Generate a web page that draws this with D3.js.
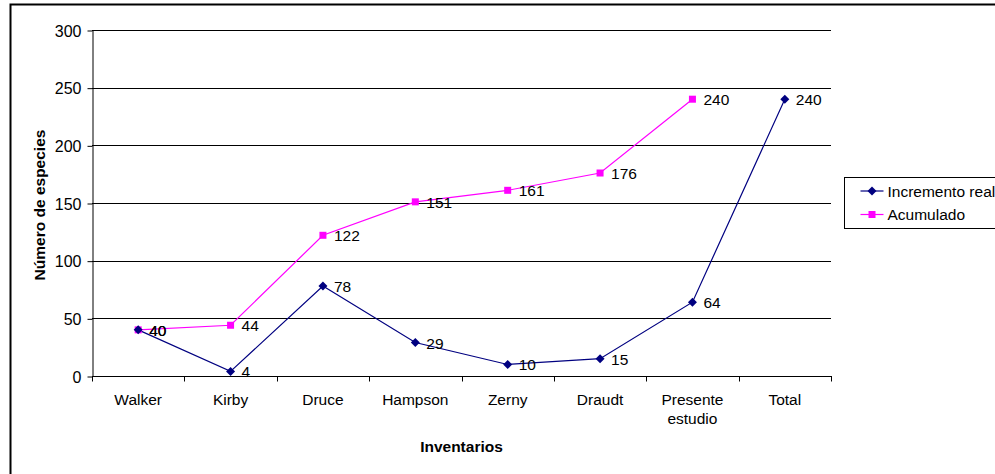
<!DOCTYPE html>
<html>
<head>
<meta charset="utf-8">
<script src="https://cdn.jsdelivr.net/npm/d3@7"></script>
<style>
  html, body { margin: 0; padding: 0; background: #fff; }
  svg { display: block; font-family: "Liberation Sans", Arial, sans-serif; }
</style>
</head>
<body>
<svg id="chart" width="995" height="474"></svg>
<script>
// Species inventories and the running total
const categories = ["Walker", "Kirby", "Druce", "Hampson", "Zerny", "Draudt", "Presente estudio", "Total"];
const incrementoReal = [40, 4, 78, 29, 10, 15, 64, 240];
const acumulado = [40, 44, 122, 151, 161, 176, 240];
const yTicks = [0, 50, 100, 150, 200, 250, 300];

const FONT = "Liberation Sans, Arial, sans-serif";
const svg = d3.select("#chart");
const plot = { left: 92, right: 831, top: 30, bottom: 376 };

// Outer chart frame (extends past the window on the right and bottom)
svg.append("rect")
  .attr("x", 10.5).attr("y", 4.5)
  .attr("width", 1000).attr("height", 500)
  .attr("fill", "none").attr("stroke", "#000").attr("stroke-width", 2);

const x = d3.scaleBand().domain(categories).range([plot.left, plot.right]);
const y = d3.scaleLinear().domain([0, 300]).range([plot.bottom, plot.top]);

// Horizontal gridlines
svg.append("g").selectAll("line").data(yTicks.filter(d => d > 0)).join("line")
  .attr("x1", plot.left).attr("x2", plot.right)
  .attr("y1", d => Math.round(y(d)) + 0.5).attr("y2", d => Math.round(y(d)) + 0.5)
  .attr("stroke", "#000").attr("stroke-width", 1);

// Y axis
const yAxis = svg.append("g")
  .attr("transform", `translate(${plot.left + 0.5},0.5)`)
  .call(d3.axisLeft(y).tickValues(yTicks).tickSize(5).tickPadding(6).tickSizeOuter(0));
yAxis.attr("font-size", null).attr("font-family", null);
yAxis.select(".domain").attr("stroke", "#000");
yAxis.selectAll(".tick line").attr("stroke", "#000");
yAxis.selectAll("text")
  .attr("fill", "#000").attr("dy", "0.35em")
  .style("font-size", "16px").style("font-family", FONT);

// X axis with ticks between categories
const xAxisG = svg.append("g").attr("transform", `translate(0,${plot.bottom + 0.5})`);
xAxisG.append("line")
  .attr("x1", plot.left).attr("x2", plot.right + 1)
  .attr("stroke", "#000");
const boundaries = categories.map(c => x(c)).concat([x.range()[1]]);
xAxisG.selectAll("line.tick").data(boundaries).join("line")
  .attr("class", "tick")
  .attr("x1", d => Math.round(d) + 0.5).attr("x2", d => Math.round(d) + 0.5)
  .attr("y1", 0).attr("y2", 5)
  .attr("stroke", "#000");

xAxisG.selectAll("text").data(categories).join("text")
  .attr("x", d => x(d) + x.bandwidth() / 2)
  .attr("y", 28)
  .attr("text-anchor", "middle")
  .attr("font-size", 15.5)
  .attr("fill", "#000")
  .each(function (d) {
    const words = d === "Presente estudio" ? ["Presente", "estudio"] : [d];
    const t = d3.select(this);
    words.forEach((w, i) => {
      t.append("tspan")
        .attr("x", x(d) + x.bandwidth() / 2)
        .attr("dy", i === 0 ? 0 : 19)
        .text(w);
    });
  });

// Axis titles
svg.append("text")
  .attr("x", (plot.left + plot.right) / 2).attr("y", 452)
  .attr("text-anchor", "middle").attr("font-size", 15.5).attr("font-weight", "bold")
  .text("Inventarios");
svg.append("text")
  .attr("transform", `translate(45,${(plot.top + plot.bottom) / 2 + 2}) rotate(-90)`)
  .attr("text-anchor", "middle").attr("font-size", 15.5).attr("font-weight", "bold")
  .text("Número de especies");

const cx = i => x(categories[i]) + x.bandwidth() / 2;
const line = d3.line().x((d, i) => cx(i)).y(d => y(d));

const series = [
  { name: "Incremento real", values: incrementoReal, color: "#000080", marker: "diamond" },
  { name: "Acumulado", values: acumulado, color: "#FF00FF", marker: "square" }
];

function drawMarker(g, kind, color) {
  if (kind === "diamond") {
    g.append("path").attr("d", "M0,-4.5L4.5,0L0,4.5L-4.5,0Z").attr("fill", color);
  } else {
    g.append("rect").attr("x", -3.5).attr("y", -3.5).attr("width", 7).attr("height", 7).attr("fill", color);
  }
}

// Lines first, then markers and value labels
series.forEach(s => {
  svg.append("path").datum(s.values)
    .attr("d", line).attr("fill", "none")
    .attr("stroke", s.color).attr("stroke-width", 1.2);
});
series.slice().reverse().forEach(s => {
  s.values.forEach((v, i) => {
    const g = svg.append("g").attr("transform", `translate(${cx(i)},${y(v)})`);
    drawMarker(g, s.marker, s.color);
  });
});
series.forEach(s => {
  s.values.forEach((v, i) => {
    svg.append("text")
      .attr("x", cx(i) + 11).attr("y", y(v) + 6)
      .attr("font-size", 15.5).attr("fill", "#000")
      .text(v);
  });
});

// Legend
const legend = svg.append("g").attr("transform", "translate(844.5,177.5)");
legend.append("rect").attr("width", 200).attr("height", 51)
  .attr("fill", "#fff").attr("stroke", "#000");
series.forEach((s, i) => {
  const ly = 13.5 + i * 23.5;
  legend.append("line").attr("x1", 16).attr("x2", 39).attr("y1", ly).attr("y2", ly)
    .attr("stroke", s.color).attr("stroke-width", 1.2);
  const m = legend.append("g").attr("transform", `translate(27.5,${ly})`);
  drawMarker(m, s.marker, s.color);
  legend.append("text").attr("x", 43).attr("y", ly + 5.5)
    .attr("font-size", 15.5).attr("fill", "#000").text(s.name);
});
</script>
</body>
</html>
